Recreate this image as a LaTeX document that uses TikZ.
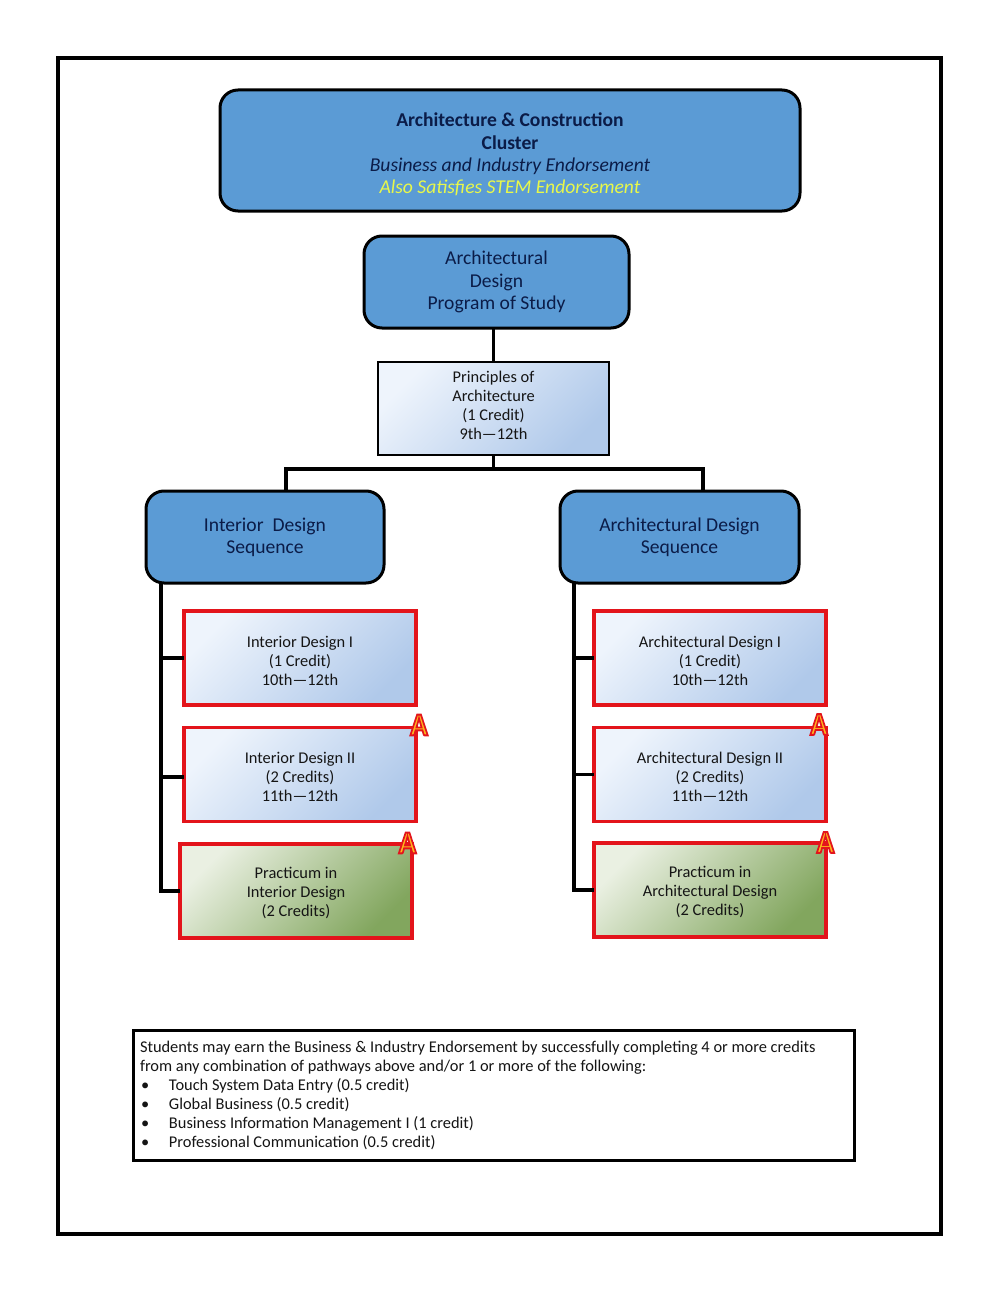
\documentclass[tikz,border=0pt]{standalone}
\usepackage{graphicx}
\usepackage{fontspec}
\setmainfont{Carlito}
\definecolor{hdr}{HTML}{5B9BD5}
\definecolor{navy}{HTML}{0B1C48}
\definecolor{ink}{HTML}{151515}
\definecolor{stem}{HTML}{E8F84A}
\definecolor{bluea}{HTML}{EEF4FC}
\definecolor{blueb}{HTML}{B0C9EA}
\definecolor{greena}{HTML}{EAF0E2}
\definecolor{greenb}{HTML}{82A65E}
\definecolor{redline}{HTML}{E3141B}
\definecolor{badge}{HTML}{FFB81C}
\newcommand{\outlined}[1]{\scalebox{0.9}[1]{\special{pdf:code 2 Tr 0.89 0.08 0.11 RG 1.9 w}#1\special{pdf:code 0 Tr}}}
\newcommand{\tb}[2]{\makebox[0pt]{\smash{\raisebox{\dimexpr#1-4.1pt\relax}{\parbox[c]{300pt}{\centering #2}}}}}
\tikzset{
  x=1pt,y=-1pt,
  every node/.style={font=\fontsize{16.4}{19}\selectfont,text=ink,align=center,inner sep=0pt,outer sep=0pt},
  header/.style={draw=black,line width=3pt,fill=hdr,rounded corners=18pt,text=navy,font=\fontsize{19.6}{22.3}\selectfont},
  plain/.style={draw=black,line width=2pt,left color=bluea,right color=blueb,shading angle=45},
  course/.style={draw=redline,line width=3.3pt,left color=bluea,right color=blueb,shading angle=45,minimum width=232pt,minimum height=94pt},
  practicum/.style={draw=redline,line width=3.3pt,left color=greena,right color=greenb,shading angle=45,minimum width=232pt,minimum height=94pt},
  link/.style={draw=black,line width=3.5pt,line cap=butt},
  frame/.style={draw=black,line width=4pt},
  ascore/.style={font=\fontsize{32}{32}\bfseries\selectfont,text=badge},
}
\begin{document}
\begin{tikzpicture}
\useasboundingbox (0,0) rectangle (999,1292);
\fill[white] (0,0) rectangle (999,1292);
\draw[frame] (58,58) rectangle (941,1234);

\node[header,minimum width=580pt,minimum height=121pt] (top) at (510,150.5)
  {\tb{-5pt}{\textbf{Architecture \& Construction}\\\textbf{Cluster}\\\textit{Business and Industry Endorsement}\\\textcolor{stem}{\textit{Also Satisfies STEM Endorsement}}}};
\node[header,minimum width=265pt,minimum height=92pt] (prog) at (496.5,282) {Architectural\\Design\\Program of Study};
\node[plain,minimum width=231pt,minimum height=93pt] (prin) at (493.5,408.5) {\tb{3pt}{Principles of\\Architecture\\(1 Credit)\\9th—12th}};

\node[header,minimum width=238pt,minimum height=92pt] (iseq) at (265,537) {Interior\ \ Design\\Sequence};
\node[header,minimum width=239pt,minimum height=92pt] (aseq) at (679.5,537) {Architectural Design\\Sequence};

\node[course] (id1) at (300,658) {\tb{-3pt}{Interior Design I\\(1 Credit)\\10th—12th}};
\node[course] (id2) at (300,774.5) {\tb{-3pt}{Interior Design II\\(2 Credits)\\11th—12th}};
\node[practicum] (ip) at (296,891) {\tb{-2pt}{Practicum in\\Interior Design\\(2 Credits)}};
\node[course] (ad1) at (710,658) {\tb{-3pt}{Architectural Design I\\(1 Credit)\\10th—12th}};
\node[course] (ad2) at (710,774.5) {\tb{-3pt}{Architectural Design II\\(2 Credits)\\11th—12th}};
\node[practicum] (ap) at (710,890) {\tb{-2pt}{Practicum in\\Architectural Design\\(2 Credits)}};

\coordinate (bus) at (493.5,469);
\coordinate (tl) at (161,0);
\coordinate (tr) at (574,0);

\draw[link] (prog.south -| prin.north) -- (prin.north);
\draw[link] (prin.south) -- (bus);
\draw[link] (286,491) |- (bus) -| (703,491);

\draw[link] (iseq.south -| tl) -- (ip.west -| tl) -- (ip.west);
\draw[link] (id1.west -| tl) -- (id1.west);
\draw[link] ([yshift=-2.5pt]id2.west -| tl) -- ([yshift=-2.5pt]id2.west);
\draw[link] (aseq.south -| tr) -- (ap.west -| tr) -- (ap.west);
\draw[link] (ad1.west -| tr) -- (ad1.west);
\draw[link] (ad2.west -| tr) -- (ad2.west);

\node[ascore] (a1) at (419,725) {\outlined{A}};
\node[ascore] (a2) at (819,724.5) {\outlined{A}};
\node[ascore] (a3) at (407.5,843) {\outlined{A}};
\node[ascore] (a4) at (825.5,842.5) {\outlined{A}};

\node[draw=black,line width=3pt,minimum width=721pt,minimum height=130pt] (note) at (493.5,1095) {};
\node[anchor=west,align=left] (notetext) at (140,1095)
 {Students may earn the Business \& Industry Endorsement by successfully completing 4 or more credits\\
 from any combination of pathways above and/or 1 or more of the following:\\
 \makebox[29pt][l]{\hspace{1pt}•}Touch System Data Entry (0.5 credit)\\
 \makebox[29pt][l]{\hspace{1pt}•}Global Business (0.5 credit)\\
 \makebox[29pt][l]{\hspace{1pt}•}Business Information Management I (1 credit)\\
 \makebox[29pt][l]{\hspace{1pt}•}Professional Communication (0.5 credit)};
\end{tikzpicture}
\end{document}
